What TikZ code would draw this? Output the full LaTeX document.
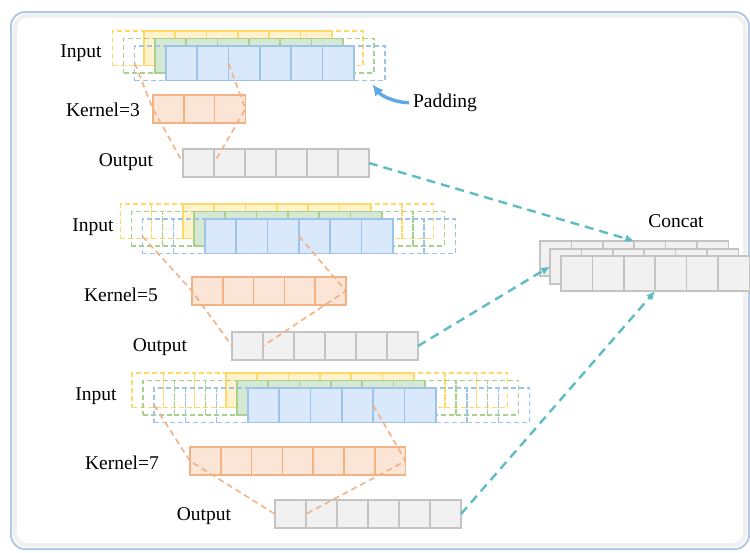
\documentclass[tikz,border=0pt]{standalone}
\usepackage{fontspec}
\setmainfont{Liberation Serif}
\usetikzlibrary{arrows.meta}
\definecolor{yline}{HTML}{FFD966}
\definecolor{yfill}{HTML}{FFF2CC}
\definecolor{gline}{HTML}{A9D18E}
\definecolor{gfill}{HTML}{D5E8D4}
\definecolor{bline}{HTML}{9DC3E6}
\definecolor{bfill}{HTML}{DAE8FC}
\definecolor{kline}{HTML}{F4B183}
\definecolor{kfill}{HTML}{FBE5D6}
\definecolor{oline}{HTML}{C4C4C4}
\definecolor{ofill}{HTML}{F1F1F1}
\definecolor{accent}{HTML}{5DBDC3}
\definecolor{padblue}{HTML}{5FA8E3}
\definecolor{panelline}{HTML}{B4C7E7}

\begin{document}
\begin{tikzpicture}[x=1pt,y=-1pt,
      txt/.style={font=\fontsize{19.5}{22}\selectfont,inner sep=0pt},
      cell/.style 2 args={draw=#1,fill=#2,line width=1.7pt,minimum width=31.3pt,minimum height=34.5pt,inner sep=0pt,outer sep=0pt},
      pad/.style={draw=#1,line width=1.5pt,dash pattern=on 5pt off 3pt,minimum width=31.3pt,minimum height=34.5pt,inner sep=0pt,outer sep=0pt},
      kcell/.style={draw=kline,fill=kfill,line width=1.7pt,minimum width=30.8pt,minimum height=28pt,inner sep=0pt,outer sep=0pt},
      ocell/.style={draw=oline,fill=ofill,line width=1.7pt,minimum width=31pt,minimum height=28pt,inner sep=0pt,outer sep=0pt},
      ccell/.style={ocell,minimum width=31.4pt,minimum height=35pt},
      recep/.style={draw=kline,line width=1.6pt,dash pattern=on 6pt off 4pt},
      arrow/.style={-{Latex[length=9pt,width=8pt]},draw=accent,line width=2.4pt,dash pattern=on 9pt off 6pt},
      padarrow/.style={-{Latex[length=11pt,width=11pt]},draw=padblue,line width=3.4pt,shorten <=4pt,shorten >=5pt}
    ]
      \useasboundingbox (0,0) rectangle (750,552);
      \draw[gray!12,line width=4pt,rounded corners=12pt] (15,16) rectangle (745,545);
      \draw[panelline,line width=2pt,rounded corners=14pt] (11,12) rectangle (749,549);
      % padded inputs: yellow, green, blue layers
      \foreach \blk/\bx/\by/\p in {1/166/46/1, 2/205/219/2, 3/248/388/3} {
        \foreach \lay/\dx/\dy/\ln/\fl in {y/-22/-15/yline/yfill, g/-11/-7.5/gline/gfill, b/0/0/bline/bfill} {
          \foreach \i in {1,...,\p} {
            \node[pad=\ln] (in\blk\lay l\i) at (\bx+\dx-\i*31.3+15.65, \by+\dy+17.25) {};
            \node[pad=\ln] (in\blk\lay r\i) at (\bx+\dx+\i*31.3+172.15, \by+\dy+17.25) {};
          }
          \foreach \i in {1,...,6}
            \node[cell={\ln}{\fl}] (in\blk\lay\i) at (\bx+\dx+\i*31.3-15.65, \by+\dy+17.25) {};
        }
      }
      % kernels
      \foreach \blk/\kx/\ky/\k in {1/153/95/3, 2/192/277/5, 3/190/447/7}
        \foreach \i in {1,...,\k}
          \node[kcell] (k\blk c\i) at (\kx+\i*30.8-15.4, \ky+14) {};
      % outputs
      \foreach \blk/\ox/\oy in {1/183/149, 2/232/332, 3/275/500}
        \foreach \i in {1,...,6}
          \node[ocell] (o\blk c\i) at (\ox+\i*31-15.5, \oy+14) {};
      % concat stack
      \foreach \lyr/\cx/\cy in {1/540/241, 2/550/249, 3/561/256}
        \foreach \i in {1,...,6}
          \node[ccell] (ct\lyr c\i) at (\cx+\i*31.4-15.7, \cy+17.5) {};
      \node[txt] (in1) at (81,53) {Input};
      \node[txt] (ker1) at (103,110) {Kernel=3};
      \node[txt] (out1) at (126,162) {Output};
      \node[txt] (in2) at (93,227) {Input};
      \node[txt] (ker2) at (121,295) {Kernel=5};
      \node[txt] (out2) at (160,347) {Output};
      \node[txt] (in3) at (96,396) {Input};
      \node[txt] (ker3) at (122,463) {Kernel=7};
      \node[txt] (out3) at (204,516) {Output};
      \node[txt] (padlbl) at (445,103) {Padding};
      \node[txt] (cat) at (676,221) {Concat};
      \draw[recep] (in1bl1.west) -- (k1c1.west) -- (o1c1.west);
      \draw[recep] (in1b2.east) -- (k1c3.east) -- (o1c1.east);
      \draw[recep] (in2bl2.west) -- (k2c1.west) -- (o2c1.west);
      \draw[recep] (in2b3.east) -- (k2c5.east) -- (o2c1.east);
      \draw[recep] (in3bl3.west) -- (k3c1.west) -- (o3c1.west);
      \draw[recep] (in3b4.east) -- (k3c7.east) -- (o3c1.east);
      \draw[padarrow] (padlbl.west) to[bend left=25] (in1br1.south);
      \draw[arrow] (o1c6.east) -- (ct1c3.north east);
      \draw[arrow] (o2c6.east) -- (ct2c1.west);
      \draw[arrow] (o3c6.east) -- (ct3c3.south east);
    \end{tikzpicture}
\end{document}
